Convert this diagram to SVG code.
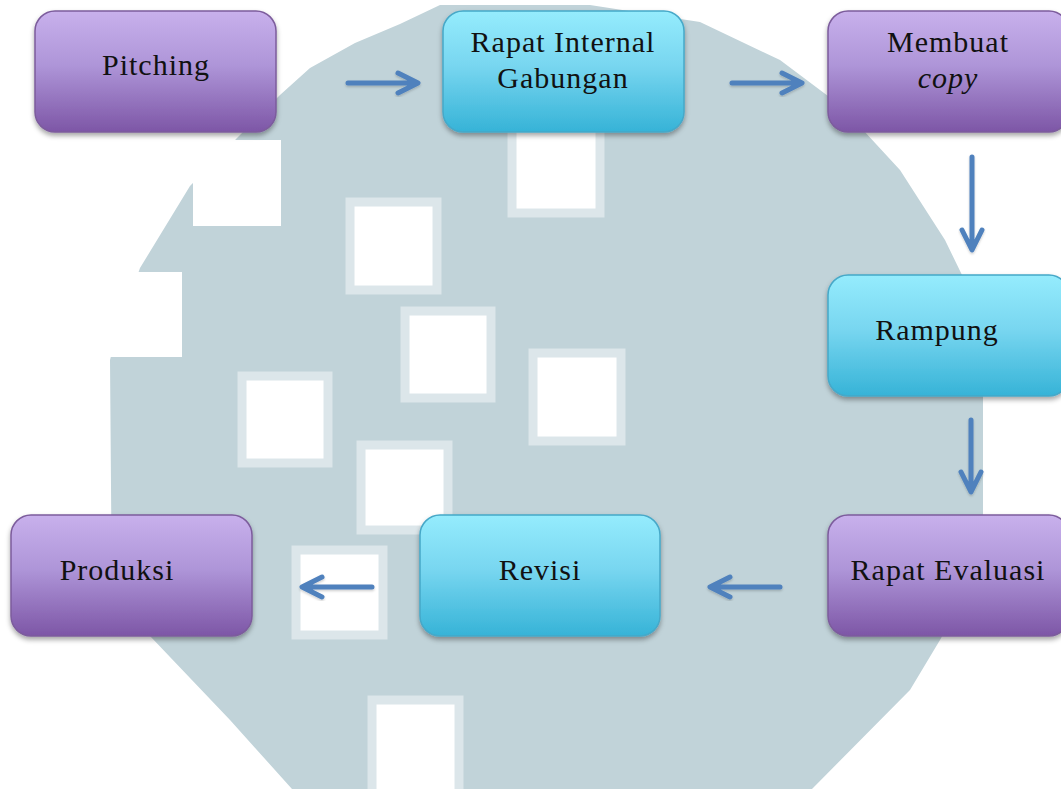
<svg xmlns="http://www.w3.org/2000/svg" width="1061" height="789" viewBox="0 0 1061 789">
  <style>
    .lbl { font-family: "Liberation Serif", "DejaVu Serif", serif; font-size: 30px; fill: #111; text-anchor: middle; letter-spacing: 1px; }
    .purple { fill: url(#gPurple); stroke: #7c5c9c; stroke-width: 1.5; filter: url(#shadow); }
    .cyan { fill: url(#gCyan); stroke: #46a8c8; stroke-width: 1.5; filter: url(#shadow); }
    .arrow { fill: none; stroke: #4f81bd; stroke-width: 5; stroke-linecap: round; stroke-linejoin: round; filter: url(#ashadow); }
    .sq { fill: #ffffff; stroke: #dce6ea; stroke-width: 9; }
    .sqe { fill: #ffffff; }
  </style>
  <defs>
    <linearGradient id="gPurple" x1="0" y1="0" x2="0" y2="1">
      <stop offset="0" stop-color="#c8b0ec"/>
      <stop offset="0.45" stop-color="#ae95d8"/>
      <stop offset="1" stop-color="#7d56a6"/>
    </linearGradient>
    <linearGradient id="gCyan" x1="0" y1="0" x2="0" y2="1">
      <stop offset="0" stop-color="#95ecfd"/>
      <stop offset="0.45" stop-color="#78d6f0"/>
      <stop offset="1" stop-color="#36b3d7"/>
    </linearGradient>
    <filter id="shadow" x="-10%" y="-10%" width="120%" height="130%">
      <feDropShadow dx="0" dy="3" stdDeviation="2.5" flood-color="#000" flood-opacity="0.35"/>
    </filter>
    <filter id="ashadow" x="-20%" y="-20%" width="140%" height="140%">
      <feDropShadow dx="0" dy="1.5" stdDeviation="1" flood-color="#000" flood-opacity="0.2"/>
    </filter>
  </defs>

  <rect width="1061" height="789" fill="#ffffff"/>

  <g id="background">
    <path fill="#c1d3d9" d="M 440 5 L 590 5 L 700 22 L 780 60 L 840 105 L 900 170 L 945 240 L 962 275 L 983 330 L 983 520 L 962 600 L 940 640 L 910 690 L 812 789 L 292 789 L 230 720 L 150 636 L 112 610 L 110 360 L 118 330 L 140 268 L 190 186 L 237 138 L 280 95 L 310 68 L 355 43 L 400 24 Z"/>
    <rect class="sqe" x="193" y="140" width="88" height="86"/>
    <rect class="sqe" x="100" y="272" width="82" height="85"/>
    <rect class="sq" x="512" y="120" width="88" height="93"/>
    <rect class="sq" x="350" y="202" width="87" height="88"/>
    <rect class="sq" x="533" y="353" width="88" height="88"/>
    <rect class="sq" x="405" y="311" width="86" height="87"/>
    <rect class="sq" x="242" y="376" width="86" height="87"/>
    <rect class="sq" x="361" y="445" width="87" height="85"/>
    <rect class="sq" x="296" y="550" width="87" height="85"/>
    <rect class="sq" x="372" y="700" width="87" height="100"/>
  </g>

  <g id="connectors">
    <path class="arrow" d="M 348 83 L 417 83 M 398 73 L 418 83 L 398 93"/>
    <path class="arrow" d="M 732 83 L 801 83 M 782 73 L 802 83 L 782 93"/>
    <path class="arrow" d="M 972 157 L 972 249 M 962 230 L 972 250 L 982 230"/>
    <path class="arrow" d="M 971 420 L 971 491 M 961 472 L 971 492 L 981 472"/>
    <path class="arrow" d="M 780 587 L 711 587 M 730 577 L 710 587 L 730 597"/>
    <path class="arrow" d="M 372 587 L 303 587 M 322 577 L 302 587 L 322 597"/>
  </g>

  <g id="node-pitching">
    <rect class="purple" x="35" y="11" width="241" height="121" rx="20"/>
    <text class="lbl" x="156" y="75">Pitching</text>
  </g>
  <g id="node-rapat-internal">
    <rect class="cyan" x="443" y="11" width="241" height="121" rx="20"/>
    <text class="lbl" x="563" y="52">Rapat Internal</text>
    <text class="lbl" x="563" y="88">Gabungan</text>
  </g>
  <g id="node-membuat-copy">
    <rect class="purple" x="828" y="11" width="241" height="121" rx="20"/>
    <text class="lbl" x="948" y="52">Membuat</text>
    <text class="lbl" x="948" y="88" font-style="italic">copy</text>
  </g>
  <g id="node-rampung">
    <rect class="cyan" x="828" y="275" width="241" height="121" rx="20"/>
    <text class="lbl" x="937" y="340">Rampung</text>
  </g>
  <g id="node-rapat-evaluasi">
    <rect class="purple" x="828" y="515" width="241" height="121" rx="20"/>
    <text class="lbl" x="948" y="580">Rapat Evaluasi</text>
  </g>
  <g id="node-revisi">
    <rect class="cyan" x="420" y="515" width="240" height="121" rx="20"/>
    <text class="lbl" x="540" y="580">Revisi</text>
  </g>
  <g id="node-produksi">
    <rect class="purple" x="11" y="515" width="241" height="121" rx="20"/>
    <text class="lbl" x="117" y="580">Produksi</text>
  </g>
</svg>
